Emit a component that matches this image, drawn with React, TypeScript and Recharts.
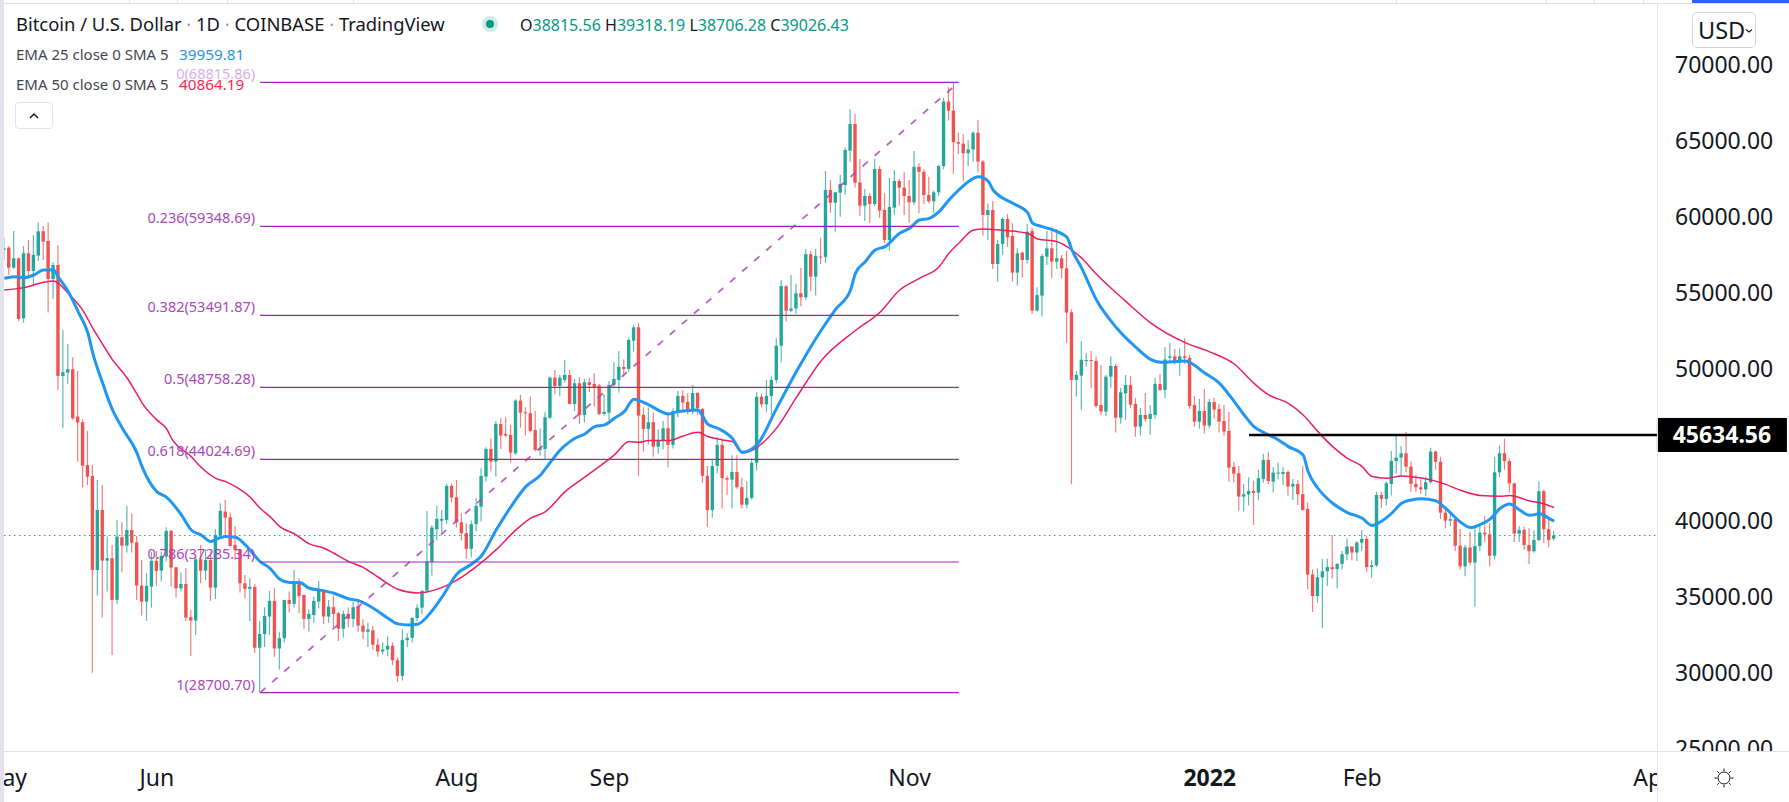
import React from 'react';
import { ComposedChart, Bar, Line, XAxis, YAxis, ReferenceLine } from 'recharts';

const opens = [
57794,57947,56633,57246,53304,57575,56414,57422,59020,58386,
55889,56808,49516,49735,49954,46844,46472,43662,42940,36764,
40706,37377,37530,34793,38910,38363,39392,38582,35735,34683,
35669,37355,36720,37640,39327,36939,35559,35844,33654,33435,
37465,36720,37421,35603,39020,40597,40224,38407,38122,35888,
35515,35647,31650,32550,33700,34728,31600,32280,34793,34530,
35954,35122,33545,33800,34683,35384,33698,34311,33917,32900,
33873,33545,34355,33108,32700,32800,31850,31400,31530,31780,
30830,29800,32150,32300,33600,34280,35400,37300,39440,40000,
40053,42287,41542,39900,39180,38150,39768,40929,42900,44718,
43885,46360,45704,45638,44433,47893,47127,47061,45966,44652,
44718,46776,49404,48857,49252,49579,47674,49032,46952,49099,
48990,48880,47018,47106,48924,49252,50106,49975,51836,52712,
46953,46033,46471,44872,45245,46076,44981,47171,48201,47807,
47281,48398,47347,42950,40700,43602,44981,42800,42700,43200,
42200,41050,41500,43800,48150,47650,48200,49250,51500,55400,
53800,53950,54950,54680,57515,56041,57360,57340,61737,60905,
61562,62065,64322,66075,62241,60707,61343,60817,63117,60423,
58451,60576,62329,61890,61342,60926,63260,62930,61408,60993,
61582,63310,67550,66950,64880,64780,64150,64400,65500,63600,
60093,60422,56874,58188,59831,58714,56305,57619,57137,59042,
53808,54794,57356,57904,57027,57246,56590,53699,49253,49534,
50500,50560,50500,47606,47168,49468,50169,46774,48373,48920,
47672,46183,46950,46687,46950,48986,48592,50700,50800,50500,
50800,50700,47606,46511,47212,46249,47804,47344,46555,45898,
43533,43117,41584,41738,41957,41847,42744,43993,42570,43095,
43073,43205,42241,42416,41738,40774,36460,35050,36280,36680,
36950,36820,37160,37795,38300,37905,38563,38803,36950,37070,
41694,41430,42416,43927,44146,44431,43555,42416,42197,42060,
42530,44540,43870,40530,40000,40100,38350,37000,38240,37250,
38330,39220,39100,37700,43180,44440,43920,42450,39150,39400,
38400,37990,38730,41940,39440,38816];

const highs = [
58604,58057,59042,57290,58057,58451,58779,59612,59371,59612,
56984,58123,52538,51618,50742,49845,46669,45896,43662,42677,
42348,38954,38407,40049,39896,40969,40487,38998,37421,36545,
37969,38013,37969,39567,39392,36939,36589,36874,34136,37596,
38407,38100,37969,39436,41144,41363,40531,39655,38122,36436,
36216,35845,33413,34300,35384,35560,32700,34793,35340,36764,
36216,35122,34180,35000,36041,35450,34793,35078,34000,34100,
34300,34683,34700,33500,33300,33100,32250,32000,32400,32000,
31000,32850,32600,33650,34500,35400,40644,39700,40973,40710,
42418,42462,42681,40491,39834,40009,41476,43447,44827,45419,
46557,46733,46798,46295,47981,48266,47455,48156,47214,46076,
47127,49470,49908,49580,50565,49908,49317,49449,49317,49384,
49690,48990,48333,49186,50435,51157,50610,52033,52866,52975,
47456,47456,47106,46033,46558,46952,47390,48530,48595,48376,
48923,48440,47400,43600,44018,45500,45310,42950,44300,44300,
42800,42600,44100,48450,48350,49250,49500,52000,55820,55500,
56150,55560,56610,57858,57740,57860,58604,62986,62394,61584,
62723,64542,67039,66733,63775,61803,61518,63775,63315,61518,
62548,63052,62460,62900,62400,64300,63500,63100,62600,61700,
63400,67800,68500,68815,65500,65400,65000,65600,66350,63700,
60860,61013,58451,59940,60159,59546,57903,57685,59502,59218,
55341,57531,59042,59283,59152,57465,57728,53896,49845,51800,
51000,51150,50800,50234,49578,50800,50300,48723,49578,49512,
48066,47409,48395,47606,49380,49643,51400,51700,51300,51300,
52000,50900,48198,48001,48658,48001,48066,47672,47606,47147,
43862,43600,42416,42854,42635,43336,44387,44497,43511,43818,
43511,43292,42744,42679,43599,41190,36800,36850,37500,37500,
39066,37200,38000,38846,38300,38650,39394,38990,37400,41900,
41900,42600,44584,45570,44913,45850,43900,43000,42700,42900,
44800,44600,44200,40950,40450,40150,39450,38400,39250,39700,
39700,40300,39850,44200,44950,45400,44100,42500,39650,39600,
39500,39350,42600,42050,40250,39318];

const lows = [
57137,56152,56546,53130,53020,56042,55385,57071,57137,53677,
54575,48596,46073,48990,46625,43881,42173,42348,30000,35078,
33632,35340,31180,34508,36589,37903,37903,34793,33764,33413,
34290,35713,35998,37311,35669,34947,35340,33413,31114,32493,
35888,36100,34728,34859,38998,39064,38297,37421,35275,34902,
33413,31300,28700,31700,32500,31050,30200,32000,33960,34300,
33917,32900,32700,33300,34250,33200,33300,33000,32100,32300,
33000,33000,32700,32200,31700,31500,31050,31200,31100,30500,
29400,29500,31700,32000,33400,33850,35300,36400,38700,39200,
39800,41192,39550,38700,37500,37600,39300,39944,42571,43229,
42900,44718,45462,43820,44324,46119,45594,45791,44542,44280,
44039,46689,48331,48200,49076,47674,47214,46361,46449,48464,
47500,46952,46900,46624,48700,48420,49471,49800,51113,42950,
44544,45000,44215,44400,44700,43514,44740,46800,47100,47000,
47000,46952,42500,39600,40200,43100,40800,41700,40800,42100,
40800,40800,41400,43300,47450,47150,46900,49050,50400,53100,
53700,53600,54100,54500,55100,54800,56873,56960,60247,59000,
59984,61430,63600,61900,60028,59700,59590,60685,59897,58231,
57750,60100,60700,60094,59590,60750,60200,60816,60860,60200,
61350,63100,66300,62800,64100,62300,63300,63600,62900,58736,
58451,56546,55713,57465,58000,55713,55451,55976,56900,53590,
53743,53414,56809,55976,56546,55932,51706,42400,48145,47278,
50125,48701,47431,46950,46884,48745,45789,46380,46621,47400,
45526,45592,46512,45657,46687,48526,48066,50400,50256,49534,
50300,47344,46183,46052,45723,46052,46709,45789,45592,42570,
42504,40664,40598,41000,39722,41365,42500,42416,41847,42700,
42350,41650,41365,41037,40664,35500,34000,34600,32950,35700,
36200,35550,36800,37400,37400,37350,38000,36650,36250,36950,
40850,41000,41650,43100,42950,43200,41900,41900,41750,41600,
42430,43350,40100,39500,39650,38000,36800,36350,37050,34350,
38000,38600,37000,37450,42850,43350,41850,38600,38600,38100,
37150,37900,38650,38550,38250,38706];

const closes = [
57903,56633,57246,53261,57575,56414,57465,59020,58342,55889,
56808,49516,49757,49954,46734,46450,43619,42896,36764,40706,
37377,37530,34793,38954,38363,39392,38560,35735,34683,35713,
37355,36698,37684,39327,36917,35559,35844,33632,33435,37465,
36720,37421,35603,39064,40640,40202,38341,38078,35888,35515,
35647,31650,32550,33742,34728,31600,32280,34793,34530,35954,
35056,33545,33873,34728,35450,33698,34355,33873,32900,33873,
33545,34311,33108,32700,32850,31850,31400,31530,31780,30830,
29800,32150,32300,33600,34280,35400,37300,39550,40119,40119,
42287,41520,39900,39180,38150,39768,40973,42944,44718,43885,
46360,45594,45594,44477,47893,47105,47061,45900,44652,44762,
46798,49404,48857,49404,49579,47674,49032,46952,49099,48923,
48770,47018,47149,48924,49318,50106,49975,51880,52712,46909,
46033,46471,44872,45288,46076,44981,47215,48201,47763,47171,
48398,47391,42950,40700,43600,44981,42800,42700,43200,42200,
41050,41500,43800,48150,47650,48200,49250,51500,55427,53800,
53950,54950,54680,57515,56041,57405,57340,61737,60905,61584,
62130,64366,66075,62219,60707,61343,60817,63117,60379,58451,
60620,62329,61890,61342,60926,63260,62930,61408,60993,61582,
63310,67550,66950,64880,64780,64150,64400,65500,63600,60093,
60422,56874,58188,59831,58626,56305,57575,57137,58999,53808,
54838,57400,57904,57027,57246,56590,53677,49253,49582,50580,
50560,50500,47541,47168,49468,50169,46774,48439,48920,47628,
46183,46950,46687,47015,48986,48592,50600,50800,50500,50800,
50700,47541,46511,47212,46249,47804,47300,46511,45855,43489,
43095,41584,41738,41957,41825,42788,43993,42613,43161,43161,
43205,42241,42416,41738,40708,36460,35050,36280,36680,36950,
36820,37160,37795,38300,37905,38563,38803,36950,37070,41694,
41430,42460,43927,44146,44431,43555,42416,42197,42060,42530,
44540,43870,40530,40000,40100,38350,37000,38240,37250,38330,
39220,39100,37700,43180,44440,43920,42450,39150,39400,38400,
37990,38730,41940,39440,38730,39026];

const ema25Days = [0,2,4,6,8,10,11,13,15,17,18,20,22,24,27,28,31,33,36,38,40,42,43,45,47,49,52,54,56,58,60,62,64,67,70,72,75,78,80,82,84,87,89,92,95,97,100,103,106,109,111,113,114,116,118,120,122,124,126,128,129,131,135,137,141,142,143,145,148,150,153,157,161,166,169,172,173,175,177,179,182,184,186,188,190,192,194,196,198,200,201,205,208,209,211,214,216,217,219,222,226,230,233,235,240,244,247,250,252,254,256,259,261,264,265,267,270,273,276,278,280,282,284,286,288,291,293,296,298,300,302,304,306,308,310,312,314,315];
const ema25Values = [55932,56042,55976,56150,56480,56480,55998,55057,53742,52319,51005,49034,47282,46077,44429,43553,41910,41538,40378,39392,39064,38626,38779,38954,38910,38407,37311,36873,36151,35932,35932,35559,35450,35231,34859,34749,34245,33589,33216,33150,33200,34100,35000,36500,37150,37700,39400,40930,42240,43000,43850,44650,44950,45420,45700,46186,46296,46733,47171,47982,47894,47610,47018,47171,47281,46843,46340,46077,45400,44500,45000,47400,49800,52500,53900,55164,56260,57026,57793,58012,58889,59217,59765,59875,60312,61079,61736,62300,62600,62300,61736,60860,60247,59546,59327,58998,58626,57794,56589,54500,52700,51400,50600,50410,50500,49700,49030,47825,46950,46183,45789,45307,44869,44321,43227,42132,41146,40533,40160,39679,39985,40489,41146,41365,41450,41300,40800,39900,39550,39750,40100,40800,41100,40700,40350,40450,40150,39960];

const ema50Days = [0,4,8,10,11,13,16,18,20,22,25,27,28,31,33,34,38,40,43,45,47,50,52,54,56,59,62,65,67,70,73,76,80,84,88,92,96,100,104,107,110,114,117,120,124,127,129,131,135,138,141,143,146,148,150,157,161,166,173,178,182,186,190,192,194,197,199,204,208,210,214,216,219,222,228,233,240,245,250,254,257,261,264,267,270,273,276,278,281,284,288,292,296,300,304,306,310,313,315];
const ema50Values = [55166,55319,55670,55757,55604,54947,53808,52647,51596,50567,49363,48300,47750,46625,46034,45414,44210,43509,42786,42567,42239,41538,40815,40268,39611,39129,38472,38188,37859,37311,36917,36282,35494,35250,35500,36100,37000,38100,39396,40162,40600,41914,42637,43339,44324,45200,45157,45266,45266,45573,45813,45529,45310,45200,44450,46100,48100,50500,52500,53699,55166,55932,56699,57575,58232,59108,59174,59064,58889,58517,58341,58013,57246,56200,54400,53000,51700,51100,50300,49030,48263,47716,46950,45854,44869,44102,43555,42898,42788,42941,42800,42500,42000,41650,41600,41650,41300,41100,40864];

const fibLevels = [
  { text: '0(68815.86)', price: 68815.86, color: '#dcaee8' },
  { text: '0.236(59348.69)', price: 59348.69, color: '#ab47bc' },
  { text: '0.382(53491.87)', price: 53491.87, color: '#ab47bc' },
  { text: '0.5(48758.28)', price: 48758.28, color: '#ab47bc' },
  { text: '0.618(44024.69)', price: 44024.69, color: '#ab47bc' },
  { text: '0.786(37285.34)', price: 37285.34, color: '#ab47bc' },
  { text: '1(28700.70)', price: 28700.7, color: '#ab47bc' },
];
const fibStartDay = 52;
const fibEndDay = 194;
const supportPrice = 45634.56;
const supportStartDay = 253;
const lastPrice = 39026.43;
const axisEndDay = 335.9;

const monthTicks = [0, 31, 92, 123, 184, 245, 276, 335];
const monthLabels = ['May', 'Jun', 'Aug', 'Sep', 'Nov', '2022', 'Feb', 'Apr'];
const priceTicks = [25000, 30000, 35000, 40000, 50000, 55000, 60000, 65000, 70000];

const UP = '#26a69a';
const DOWN = '#ef5350';
const INK = '#131722';
const RULE = '#e0e3eb';
const FONT = '"Noto Sans", sans-serif';

const table = opens.map((o, i) => {
  const a = ema25Days.indexOf(i);
  const b = ema50Days.indexOf(i);
  return {
    day: i,
    open: o,
    high: highs[i],
    low: lows[i],
    close: closes[i],
    range: [lows[i], highs[i]],
    ema25: a >= 0 ? ema25Values[a] : null,
    ema50: b >= 0 ? ema50Values[b] : null,
  };
});

function Candle(props: any) {
  const { x, y, width, height, payload } = props;
  const { open, close, high, low } = payload;
  const unit = height / Math.max(1, high - low);
  const c = close >= open ? UP : DOWN;
  const mid = x + width / 2;
  const top = y + (high - Math.max(open, close)) * unit;
  const h = Math.max(1, Math.abs(open - close) * unit);
  return (
    <g>
      <line x1={mid} x2={mid} y1={y} y2={y + height} stroke={c} strokeWidth={1.2} strokeOpacity={0.75} />
      <rect x={mid - 1.7} y={top} width={3.4} height={h} fill={c} />
    </g>
  );
}

function FibText(text: string, color: string) {
  return (p: any) => (
    <text x={p.viewBox.x - 5} y={p.viewBox.y - 3} textAnchor="end" fill={color} fontSize={14.5} fontFamily={FONT}>
      {text}
    </text>
  );
}

function PriceTag(text: string) {
  return (p: any) => {
    const right = p.viewBox.x + p.viewBox.width;
    return (
      <g>
        <rect x={right} y={p.viewBox.y - 17} width={130} height={34} fill="#000" />
        <text x={right + 65} y={p.viewBox.y + 8} textAnchor="middle" fill="#fff" fontSize={23} fontWeight={700} fontFamily={FONT}>
          {text}
        </text>
      </g>
    );
  };
}

function MonthTick(props: any) {
  const { x, y, payload } = props;
  const label = monthLabels[monthTicks.indexOf(payload.value)];
  return (
    <text x={x} y={y + 27} textAnchor="middle" fill={INK} fontSize={23} fontWeight={label === '2022' ? 700 : 400} fontFamily={FONT}>
      {label}
    </text>
  );
}

function PriceTick(props: any) {
  const { x, y, payload } = props;
  return (
    <text x={x + 5} y={y + 8.5} textAnchor="start" fill={INK} fontSize={23} fontFamily={FONT}>
      {payload.value.toFixed(2)}
    </text>
  );
}

const abs = (s: React.CSSProperties): React.CSSProperties => ({ position: 'absolute', ...s });

function Header() {
  const text: React.CSSProperties = { fontFamily: FONT, whiteSpace: 'nowrap', lineHeight: 1 };
  return (
    <>
      <div style={abs({ ...text, left: 16, top: 15, fontSize: 18.4, color: INK })}>
        Bitcoin / U.S. Dollar <span style={{ color: '#9598a1' }}>·</span> 1D <span style={{ color: '#9598a1' }}>·</span> COINBASE <span style={{ color: '#9598a1' }}>·</span> TradingView
      </div>
      <svg style={abs({ left: 480, top: 14 })} width={20} height={20}>
        <circle cx={10} cy={10} r={8} fill="#26a69a" fillOpacity={0.22} />
        <circle cx={10} cy={10} r={4} fill="#089981" />
      </svg>
      <div style={abs({ ...text, left: 520, top: 17, fontSize: 16, color: INK })}>
        O<span style={{ color: '#089981' }}>38815.56</span> H<span style={{ color: '#089981' }}>39318.19</span> L<span style={{ color: '#089981' }}>38706.28</span> C<span style={{ color: '#089981' }}>39026.43</span>
      </div>
      <div style={abs({ ...text, left: 16, top: 47, fontSize: 15, color: '#434651' })}>EMA 25 close 0 SMA 5</div>
      <div style={abs({ ...text, left: 179, top: 47, fontSize: 15.3, color: '#2196f3' })}>39959.81</div>
      <div style={abs({ ...text, left: 16, top: 77, fontSize: 15, color: '#434651' })}>EMA 50 close 0 SMA 5</div>
      <div style={abs({ ...text, left: 179, top: 77, fontSize: 15.3, color: '#f7284f' })}>40864.19</div>
      <div style={abs({ left: 15, top: 102, width: 36, height: 25, border: '1px solid #e0e3eb', borderRadius: 4, background: '#fff' })}>
        <svg width={36} height={25}>
          <path d="M14 15 L18 11 L22 15" fill="none" stroke={INK} strokeWidth={1.5} />
        </svg>
      </div>
    </>
  );
}

function Frame() {
  const seps = [129, 177, 227, 353, 1396, 1546, 1594, 1643];
  return (
    <>
      <div style={abs({ left: 0, top: 3, width: 1789, height: 1, background: RULE })} />
      {seps.map((x) => (
        <div key={x} style={abs({ left: x, top: 0, width: 1, height: 3, background: RULE })} />
      ))}
      <div style={abs({ left: 1692, top: 0, width: 97, height: 3, background: '#2962ff' })} />
      <div style={abs({ left: 0, top: 0, width: 4, height: 802, background: RULE })} />
      <div style={abs({ left: 1657, top: 751, width: 132, height: 51, background: '#fff' })} />
      <div style={abs({ left: 4, top: 751, width: 1785, height: 1, background: RULE })} />
      <div style={abs({ left: 1657, top: 4, width: 1, height: 798, background: RULE })} />
      <div
        style={abs({
          left: 1692, top: 12, width: 57, height: 34, border: '1px solid #d1d4dc', borderRadius: 5, background: '#fff',
          fontFamily: FONT, fontSize: 23.5, color: INK, lineHeight: '34px', paddingLeft: 5, boxSizing: 'content-box',
        })}
      >
        USD
        <svg style={abs({ left: 52, top: 15 })} width={8} height={6}>
          <path d="M1 1.5 L4 4 L7 1.5" fill="none" stroke={INK} strokeWidth={1.1} />
        </svg>
      </div>
      <svg style={abs({ left: 1712, top: 766 })} width={24} height={24} viewBox="0 0 24 24">
        <circle cx={12} cy={12} r={6} fill="none" stroke={INK} strokeWidth={1} />
        <path d="M12 2.5V5 M12 19V21.5 M2.5 12H5 M19 12H21.5 M5.3 5.3L7 7 M17 17L18.7 18.7 M5.3 18.7L7 17 M17 7L18.7 5.3" stroke={INK} strokeWidth={1} />
      </svg>
    </>
  );
}

export default function App() {
  return (
    <div style={{ position: 'relative', width: 1789, height: 802, overflow: 'hidden', background: '#fff' }}>
      <style>{'body{margin:0}'}</style>
      <div style={abs({ left: 0, top: 0 })}>
        <ComposedChart width={1789} height={802} data={table} margin={{ top: 4, right: 0, bottom: 0, left: 0 }}>
          <XAxis
            dataKey="day"
            type="number"
            domain={[-0.874, 338.56]}
            allowDataOverflow
            ticks={monthTicks}
            interval={0}
            height={51}
            axisLine={false}
            tickLine={false}
            tick={<MonthTick />}
          />
          <YAxis
            orientation="right"
            width={119}
            domain={[24862, 73962]}
            allowDataOverflow
            ticks={priceTicks}
            interval={0}
            axisLine={false}
            tickLine={false}
            tickSize={0}
            tickMargin={0}
            tick={<PriceTick />}
          />
          <Bar dataKey="range" barSize={4} isAnimationActive={false} shape={<Candle />} />
          <ReferenceLine
            ifOverflow="visible"
            segment={[{ x: -0.06, y: lastPrice }, { x: axisEndDay, y: lastPrice }]}
            stroke={UP}
            strokeWidth={1}
            strokeDasharray="1.5 3.5"
          />
          <Line dataKey="ema50" type="monotone" stroke="#e91e63" strokeWidth={1.5} dot={false} connectNulls isAnimationActive={false} />
          <Line dataKey="ema25" type="monotone" stroke="#2196f3" strokeWidth={3} dot={false} connectNulls isAnimationActive={false} />
          <ReferenceLine
            ifOverflow="visible"
            segment={[{ x: fibStartDay, y: 28700.7 }, { x: fibEndDay, y: 68815.86 }]}
            stroke="#ab47bc"
            strokeWidth={1.8}
            strokeDasharray="7 9"
            strokeOpacity={0.85}
          />
          {fibLevels.map((f) => (
            <ReferenceLine
              key={f.text}
              ifOverflow="visible"
              segment={[{ x: fibStartDay, y: f.price }, { x: fibEndDay, y: f.price }]}
              stroke="#9c27b0"
              strokeWidth={1.2}
              label={FibText(f.text, f.color)}
            />
          ))}
          <ReferenceLine
            ifOverflow="visible"
            segment={[{ x: supportStartDay, y: supportPrice }, { x: axisEndDay, y: supportPrice }]}
            stroke="#000"
            strokeWidth={2.6}
            label={PriceTag('45634.56')}
          />
        </ComposedChart>
      </div>
      <Frame />
      <Header />
    </div>
  );
}
